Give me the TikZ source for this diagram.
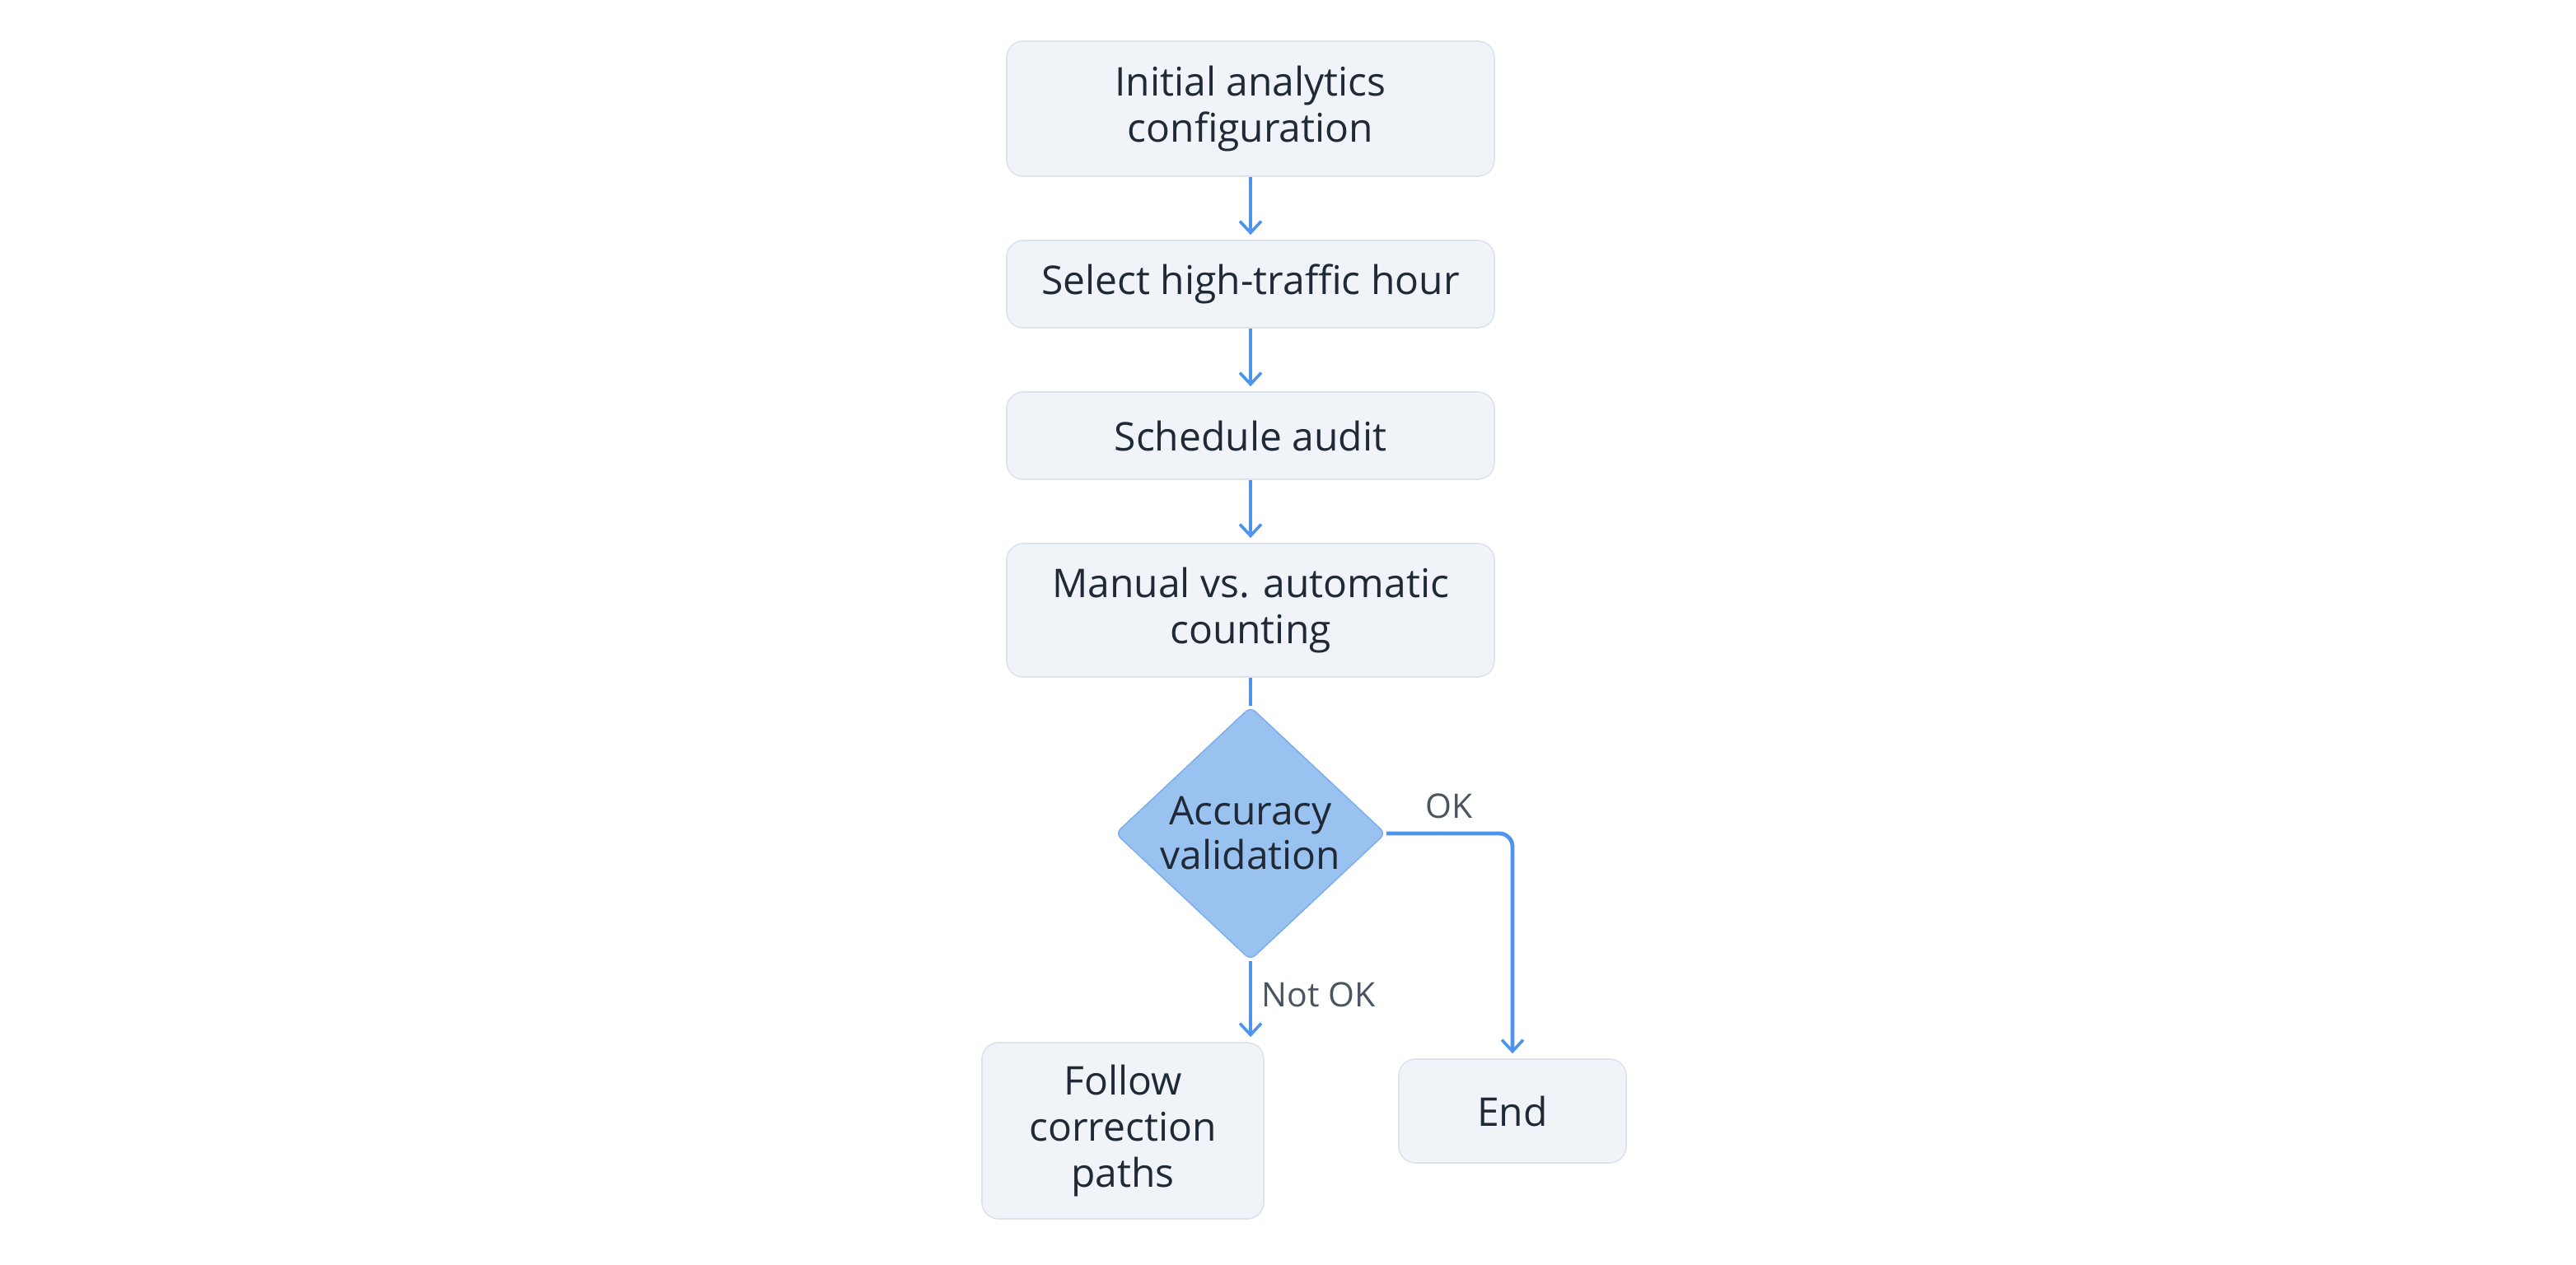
\documentclass[tikz,border=0pt]{standalone}
\usepackage{fontspec}
\setmainfont{Open Sans}
\usetikzlibrary{arrows.meta}
\usetikzlibrary{shapes.geometric}

\definecolor{boxfill}{HTML}{F0F3F7}
\definecolor{boxline}{HTML}{DDE3EA}
\definecolor{textdark}{HTML}{1F2A36}
\definecolor{tagtext}{HTML}{4B5560}
\definecolor{flowblue}{HTML}{4D94EC}
\definecolor{diafill}{HTML}{99C2F0}
\definecolor{dialine}{HTML}{7DB0EA}

\begin{document}
\begin{tikzpicture}[
    box/.style={draw=boxline, fill=boxfill, rounded corners=10pt, line width=0.8pt,
        text=textdark, align=center, inner sep=0pt,
        font=\fontsize{24}{28}\selectfont},
    decision/.style={diamond, draw=dialine, fill=diafill, rounded corners=4pt, line width=0.8pt,
        text=textdark, align=center, inner sep=0pt,
        minimum width=164pt, minimum height=152pt,
        font=\fontsize{24}{27}\selectfont},
    flow/.style={draw=flowblue, line width=1.8pt,
        -{Straight Barb[length=7pt, width=13pt, line width=1.8pt]},
        shorten >=3pt},
    tag/.style={text=tagtext, inner sep=2pt, font=\fontsize{20.5}{24}\selectfont}
]
\useasboundingbox (0,0) rectangle (1563.5pt,-768pt); % fix page size

\node [box, minimum width=296pt, minimum height=82pt] (init) at (759pt,-66pt)
    {Initial analytics\\configuration};
\node [box, minimum width=296pt, minimum height=53pt] (hour) at (759pt,-172.5pt)
    {Select high-traffic hour};
\node [box, minimum width=296pt, minimum height=53pt] (audit) at (759pt,-264.5pt)
    {Schedule audit};
\node [box, minimum width=296pt, minimum height=81pt] (manual) at (759pt,-370.5pt)
    {Manual vs. automatic\\counting};
\node [decision] (check) at (759pt,-506pt) {Accuracy\\validation};
\node [box, minimum width=171pt, minimum height=107pt] (fix) at (681.5pt,-686.5pt)
    {Follow\\correction\\paths};
\node [box, minimum width=138pt, minimum height=63pt] (done) at (918pt,-674.5pt)
    {End};

\draw [flow] (init) -- (hour);
\draw [flow] (hour) -- (audit);
\draw [flow] (audit) -- (manual);
\draw [draw=flowblue, line width=1.8pt] (manual) -- (check);

% decision branches
\draw [flow, line width=2.4pt, rounded corners=8pt] (check.east) -| (done.north)
    node [tag, pos=0.25, above, yshift=6pt] (oklabel) {OK};
\draw [flow] (check.south) -- (check.south |- fix.north)
    node [tag, midway, right, xshift=4pt, yshift=4pt] (notoklabel) {Not OK};
\end{tikzpicture}
\end{document}
